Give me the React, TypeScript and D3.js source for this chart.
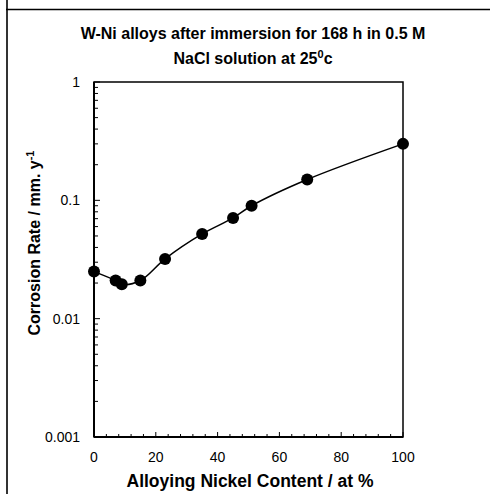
import React from 'react';
import * as d3 from 'd3';

const nickel = [0, 7, 9, 15, 23, 35, 45, 51, 69, 100];
const rate = [0.025, 0.021, 0.0195, 0.021, 0.032, 0.052, 0.071, 0.09, 0.15, 0.3];
const yTicks = [1, 0.1, 0.01, 0.001];
const yTickLabels = ['1', '0.1', '0.01', '0.001'];
const xTicks = [0, 20, 40, 60, 80, 100];

const W = 491;
const H = 494;
const font = 'Arial, "Liberation Sans", Helvetica, sans-serif';

export default function App() {
  const left = 94;
  const right = 403;
  const top = 82;
  const bottom = 437;

  const x = d3.scaleLinear().domain([0, 100]).range([left, right]);
  const y = d3.scaleLog().domain([0.001, 1]).range([bottom, top]);

  const pts = nickel.map((n, i) => [x(n), y(rate[i])] as [number, number]);
  const line = d3.line().curve(d3.curveCatmullRom.alpha(0.5))(pts) || '';

  // minor ticks
  const yMinor: number[] = [];
  [0.001, 0.01, 0.1].forEach((dec) => {
    for (let k = 2; k <= 9; k++) yMinor.push(dec * k);
  });
  const xMinor = d3.range(0, 101, 4).filter((v) => v % 20 !== 0);

  return (
    <svg width={W} height={H} style={{ position: 'absolute', left: 0, top: 0, background: '#fff' }}>
      {/* outer frame */}
      <line x1={7} y1={0} x2={7} y2={H} stroke="#333" strokeWidth={2} />
      <line x1={6} y1={9.5} x2={490} y2={9.5} stroke="#000" strokeWidth={1.5} />

      {/* title */}
      <text x={253} y={39} textAnchor="middle" fontFamily={font} fontWeight="bold" fontSize={16}>
        W-Ni alloys after immersion for 168 h in 0.5 M
      </text>
      <text x={253} y={64} textAnchor="middle" fontFamily={font} fontWeight="bold" fontSize={16}>
        NaCl solution at 25<tspan dy={-6} fontSize={11}>0</tspan><tspan dy={6}>c</tspan>
      </text>

      {/* plot box */}
      <rect x={left} y={top} width={right - left} height={bottom - top} fill="none" stroke="#000" strokeWidth={1.5} />
      <line x1={left} y1={top} x2={left} y2={bottom} stroke="#000" strokeWidth={2} />
      <line x1={left} y1={bottom} x2={right} y2={bottom} stroke="#000" strokeWidth={2} />

      {/* y ticks */}
      {yMinor.map((v) => (
        <line key={'ym' + v} x1={left} x2={left + 4} y1={y(v)} y2={y(v)} stroke="#000" strokeWidth={1} />
      ))}
      {yTicks.map((v, i) => (
        <g key={'y' + v}>
          <line x1={left} x2={left + 6} y1={y(v)} y2={y(v)} stroke="#000" strokeWidth={1} />
          <text x={left - 14} y={y(v)} dy="0.35em" textAnchor="end" fontFamily={font} fontSize={14}>
            {yTickLabels[i]}
          </text>
        </g>
      ))}

      {/* x ticks */}
      {xMinor.map((v) => (
        <line key={'xm' + v} x1={x(v)} x2={x(v)} y1={bottom} y2={bottom - 3} stroke="#000" strokeWidth={1} />
      ))}
      {xTicks.map((v) => (
        <g key={'x' + v}>
          <line x1={x(v)} x2={x(v)} y1={bottom} y2={bottom - 5} stroke="#000" strokeWidth={1} />
          <text x={x(v)} y={462} textAnchor="middle" fontFamily={font} fontSize={14}>
            {v}
          </text>
        </g>
      ))}

      {/* axis titles */}
      <text x={250} y={487} textAnchor="middle" fontFamily={font} fontWeight="bold" fontSize={17.5}>
        Alloying Nickel Content / at %
      </text>
      <text
        transform="translate(40,243) rotate(-90)"
        textAnchor="middle"
        fontFamily={font}
        fontWeight="bold"
        fontSize={16}
      >
        Corrosion Rate / mm. y<tspan dy={-6} fontSize={11}>-1</tspan>
      </text>

      {/* series */}
      <path d={line} fill="none" stroke="#000" strokeWidth={1.5} />
      {pts.map((p, i) => (
        <circle key={i} cx={p[0]} cy={p[1]} r={6} fill="#000" />
      ))}
    </svg>
  );
}
